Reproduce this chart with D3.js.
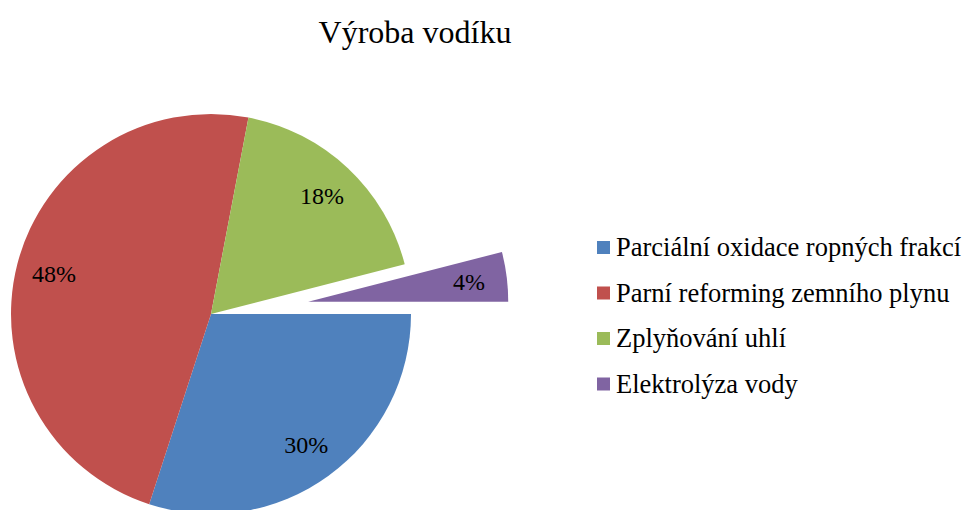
<!DOCTYPE html>
<html>
<head>
<meta charset="utf-8">
<script src="https://cdn.jsdelivr.net/npm/d3@7"></script>
<style>
  body { margin: 0; background: #fff; }
</style>
</head>
<body>
<div class="canvas"></div>
<script>
var categories = ["Parciální oxidace ropných frakcí", "Parní reforming zemního plynu", "Zplyňování uhlí", "Elektrolýza vody"];
var values = [30, 48, 18, 4];
var labels = ["30%", "48%", "18%", "4%"];
var colors = ["#4F81BD", "#C0504D", "#9BBB59", "#8064A2"];
var exploded = [0, 0, 0, 98];

var width = 966, height = 510;
var cx = 211, cy = 314, r = 200;
var serif = "'Liberation Serif', 'Times New Roman', serif";

var svg = d3.select(".canvas")
    .append("svg")
    .attr("width", width)
    .attr("height", height);

svg.append("text")
    .attr("x", 415)
    .attr("y", 43)
    .attr("text-anchor", "middle")
    .style("font-family", serif)
    .style("font-size", "32px")
    .text("Výroba vodíku");

var pie = d3.pie()
    .sort(null)
    .startAngle(Math.PI / 2)
    .endAngle(Math.PI / 2 + 2 * Math.PI);

var arcs = pie(values);
var arc = d3.arc().innerRadius(0).outerRadius(r);
var labelArc = d3.arc().innerRadius(162).outerRadius(162);

function shift(d, i) {
    var a = (d.startAngle + d.endAngle) / 2;
    var dx = Math.sin(a) * exploded[i], dy = -Math.cos(a) * exploded[i];
    return "translate(" + (cx + dx) + "," + (cy + dy) + ")";
}

var slices = svg.selectAll("g.slice")
    .data(arcs)
    .enter()
    .append("g")
    .attr("class", "slice")
    .attr("transform", shift);

slices.append("path")
    .attr("d", arc)
    .attr("fill", function(d, i) { return colors[i]; });

slices.append("text")
    .attr("transform", function(d) { return "translate(" + labelArc.centroid(d) + ")"; })
    .attr("text-anchor", "middle")
    .attr("dy", "0.35em")
    .style("font-family", serif)
    .style("font-size", "24px")
    .text(function(d, i) { return labels[i]; });

// legend
var legend = svg.selectAll("g.legend")
    .data(categories)
    .enter()
    .append("g")
    .attr("class", "legend")
    .attr("transform", function(d, i) { return "translate(597," + (241 + i * 45.5) + ")"; });

legend.append("rect")
    .attr("width", 13)
    .attr("height", 13)
    .attr("fill", function(d, i) { return colors[i]; });

legend.append("text")
    .attr("x", 19)
    .attr("y", 15)
    .style("font-family", serif)
    .style("font-size", "26.5px")
    .text(function(d) { return d; });
</script>
</body>
</html>
